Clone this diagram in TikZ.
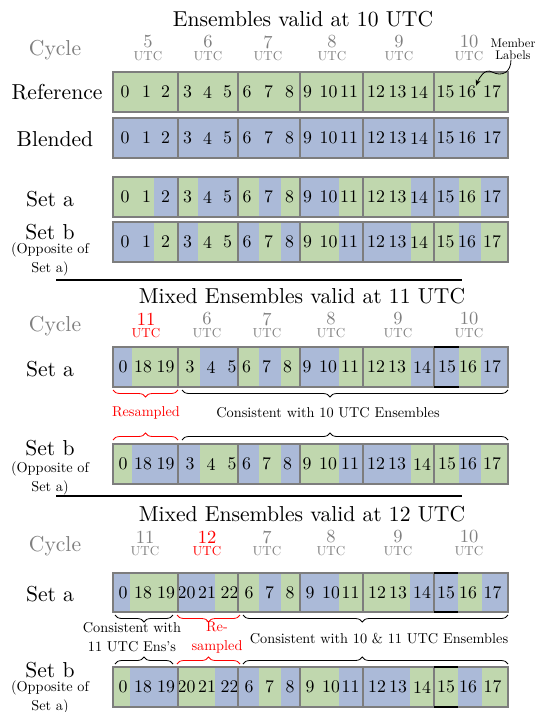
\documentclass[tikz,border=0pt]{standalone}
\usepackage{fontspec}
\setmainfont{lmroman10-regular.otf}
\usetikzlibrary{decorations.pathreplacing,arrows.meta}
\definecolor{cg}{RGB}{192,215,174}
\definecolor{cb}{RGB}{171,186,216}
\definecolor{bordergray}{RGB}{125,125,125}
\definecolor{hdrgray}{RGB}{128,128,128}
\tikzset{
  mainlbl/.style={font=\fontsize{21.6}{26}\selectfont, inner sep=0pt},
  num/.style={font=\fontsize{17.8}{22}\selectfont, inner sep=0pt},
  smalltxt/.style={font=\fontsize{14.3}{19}\selectfont, inner sep=0pt, align=center},
  hnum/.style={font=\fontsize{18.5}{22}\selectfont, inner sep=0pt},
  hutc/.style={font=\fontsize{13}{16}\selectfont, inner sep=0pt},
  grp/.style={draw=bordergray, line width=1.4pt},
  brc/.style={decorate, decoration={brace, amplitude=7pt, aspect=#1}, line width=0.8pt},
  brc/.default=0.5,
  sepline/.style={line width=1.3pt}
}
\newcommand{\cellrow}[4]{%
  \foreach \l/\r/\tx/\lab/\col [count=\k from 0] in {#4} {
    \fill[\col] (\l,#2) rectangle (\r,#3);
    \node[num] (#1-\k) at (\tx,{(#2+#3)/2}) {\lab};
  }
  \foreach \a/\b in {113/178,178/238,238/300,300/363,363/434,434/508}
    \draw[grp] (\a,#2) rectangle (\b,#3);
}
\newcommand{\hdr}[5]{%
  \node[hnum,text=#5] (#1n) at (#2,#3+23) {#4};
  \node[hutc,text=#5] (#1u) at (#2,#3+37) {UTC};
}
\begin{document}
\begin{tikzpicture}[x=1pt,y=-1pt]
\fill[white] (0,0) rectangle (539,712);
\useasboundingbox (0,0) rectangle (539,712);

% ================= Section 1 =================
\node[mainlbl] (t1) at (303,19) {Ensembles valid at 10 UTC};
\node[mainlbl,text=hdrgray] (cy1) at (55,50) {Cycle};
\hdr{h1a}{148}{19}{5}{hdrgray}
\hdr{h1b}{208}{19}{6}{hdrgray}
\hdr{h1c}{268}{19}{7}{hdrgray}
\hdr{h1d}{332}{19}{8}{hdrgray}
\hdr{h1e}{399}{19}{9}{hdrgray}
\hdr{h1f}{469}{19}{10}{hdrgray}
\node[font=\fontsize{12.5}{12}\selectfont, inner sep=0pt, align=center] (ml) at (513,49) {Member\\Labels};

\node[mainlbl] (lref) at (57,92) {Reference};
\cellrow{r1}{72}{112}{113/136/125/0/cg, 136/154/146.5/1/cg, 154/178/165.5/2/cg, 178/198/187.5/3/cg, 198/217/207.5/4/cg, 217/238/227.5/5/cg, 238/259/247/6/cg, 259/281/268.5/7/cg, 281/300/289.5/8/cg, 300/318/307.5/9/cg, 318/339/328.5/10/cg, 339/363/349/11/cg, 363/387/376/12/cg, 387/411/397.5/13/cg, 411/434/419/14/cg, 434/459/445.5/15/cg, 459/481/467/16/cg, 481/508/492/17/cg}

\node[mainlbl] (lbl) at (55,139) {Blended};
\cellrow{r2}{118}{158}{113/136/125/0/cb, 136/154/146.5/1/cb, 154/178/165.5/2/cb, 178/198/187.5/3/cb, 198/217/207.5/4/cb, 217/238/227.5/5/cb, 238/259/247/6/cb, 259/281/268.5/7/cb, 281/300/289.5/8/cb, 300/318/307.5/9/cb, 318/339/328.5/10/cb, 339/363/349/11/cb, 363/387/376/12/cb, 387/411/397.5/13/cb, 411/434/419/14/cb, 434/459/445.5/15/cb, 459/481/467/16/cb, 481/508/492/17/cb}

\node[mainlbl] (lsa1) at (50,199) {Set a};
\cellrow{r3}{177}{217}{113/136/125/0/cg, 136/154/146.5/1/cg, 154/178/165.5/2/cb, 178/198/187.5/3/cg, 198/217/207.5/4/cb, 217/238/227.5/5/cb, 238/259/247/6/cg, 259/281/268.5/7/cb, 281/300/289.5/8/cg, 300/318/307.5/9/cb, 318/339/328.5/10/cb, 339/363/349/11/cg, 363/387/376/12/cg, 387/411/397.5/13/cg, 411/434/419/14/cb, 434/459/445.5/15/cb, 459/481/467/16/cg, 481/508/492/17/cb}

\node[mainlbl] (lsb1) at (50,232) {Set b};
\node[smalltxt] (lop1) at (50,259) {(Opposite of\\Set a)};
\cellrow{r4}{222}{262}{113/136/125/0/cb, 136/154/146.5/1/cb, 154/178/165.5/2/cg, 178/198/187.5/3/cb, 198/217/207.5/4/cg, 217/238/227.5/5/cg, 238/259/247/6/cb, 259/281/268.5/7/cg, 281/300/289.5/8/cb, 300/318/307.5/9/cg, 318/339/328.5/10/cg, 339/363/349/11/cb, 363/387/376/12/cb, 387/411/397.5/13/cb, 411/434/419/14/cg, 434/459/445.5/15/cg, 459/481/467/16/cb, 481/508/492/17/cg}

\draw[-{Stealth[length=6pt,width=5pt]}, line width=0.8pt] ([xshift=-2pt]ml.south) .. controls +(0,13) and +(10,5) .. (492,72) .. controls +(-7,-4) and +(3,-8) .. (r1-16.north east);

\draw[sepline] (56,280) -- (462,280);

% ================= Section 2 =================
\node[mainlbl] (t2) at (302,296) {Mixed Ensembles valid at 11 UTC};
\node[mainlbl,text=hdrgray] (cy2) at (55,326) {Cycle};
\hdr{h2a}{146}{296}{11}{red}
\hdr{h2b}{207}{296}{6}{hdrgray}
\hdr{h2c}{267}{296}{7}{hdrgray}
\hdr{h2d}{331}{296}{8}{hdrgray}
\hdr{h2e}{398}{296}{9}{hdrgray}
\hdr{h2f}{469}{296}{10}{hdrgray}

\node[mainlbl] (lsa2) at (50,369) {Set a};
\cellrow{r5}{347}{387}{113/132/123/0/cb, 132/154/143/18/cg, 154/178/165.5/19/cg, 178/200/190/3/cg, 200/222/211/4/cb, 222/238/232/5/cb, 238/259/246.5/6/cg, 259/281/266.5/7/cb, 281/300/287.5/8/cg, 300/318/307/9/cb, 318/339/328/10/cb, 339/363/350/11/cg, 363/387/376/12/cg, 387/411/397/13/cg, 411/434/422/14/cb, 434/459/447/15/cb, 459/481/468/16/cg, 481/508/492/17/cb}
\draw[line width=1.4pt] (434,347) -- (459,347) (434,387) -- (459,387);

\draw[brc, red] (178,390) -- (113,390);
\draw[brc=0.546] (508,390) -- (182,390);
\node[smalltxt, text=red] (rs2) at (146,413) {Resampled};
\node[smalltxt] (cs2) at (328,413) {Consistent with 10 UTC Ensembles};
\draw[brc, red] (113,440) -- (178,440);
\draw[brc=0.454] (182,440) -- (508,440);

\node[mainlbl] (lsb2) at (50,448) {Set b};
\node[smalltxt] (lop2) at (50,478) {(Opposite of\\Set a)};
\cellrow{r6}{444}{484}{113/132/123/0/cg, 132/154/143/18/cb, 154/178/165.5/19/cb, 178/200/190/3/cb, 200/222/211/4/cg, 222/238/232/5/cg, 238/259/246.5/6/cb, 259/281/266.5/7/cg, 281/300/287.5/8/cb, 300/318/307/9/cg, 318/339/328/10/cg, 339/363/350/11/cb, 363/387/376/12/cb, 387/411/397/13/cb, 411/434/422/14/cg, 434/459/447/15/cg, 459/481/468/16/cb, 481/508/492/17/cg}

\draw[sepline] (56,496) -- (462,496);

% ================= Section 3 =================
\node[mainlbl] (t3) at (302,514) {Mixed Ensembles valid at 12 UTC};
\node[mainlbl,text=hdrgray] (cy3) at (55,546) {Cycle};
\hdr{h3a}{145}{514}{11}{hdrgray}
\hdr{h3b}{207}{514}{12}{red}
\hdr{h3c}{267}{514}{7}{hdrgray}
\hdr{h3d}{331}{514}{8}{hdrgray}
\hdr{h3e}{398}{514}{9}{hdrgray}
\hdr{h3f}{469}{514}{10}{hdrgray}

\node[mainlbl] (lsa3) at (50,594) {Set a};
\cellrow{r7}{573}{612}{113/130/123/0/cb, 130/155/143/18/cg, 155/178/166/19/cg, 178/197/186.5/20/cb, 197/215/207/21/cb, 215/238/229.5/22/cg, 238/259/249/6/cg, 259/281/269.5/7/cb, 281/300/290/8/cg, 300/320/310/9/cb, 320/339/331/10/cb, 339/363/350.5/11/cg, 363/387/377/12/cg, 387/410/398/13/cg, 410/434/422/14/cb, 434/458/446/15/cb, 458/482/468/16/cg, 482/508/492.5/17/cb}
\draw[line width=1.4pt] (434,573) -- (458,573) (434,612) -- (458,612);

\draw[brc] (173,615) -- (115,615);
\draw[brc, red] (240,615) -- (177,615);
\draw[brc=0.55] (508,615) -- (243,615);
\node[smalltxt] (cs3a) at (132,637) {Consistent with\\11 UTC Ens's};
\node[smalltxt, text=red] (rs3) at (217,637) {Re-\\sampled};
\node[smalltxt] (cs3b) at (379,639) {Consistent with 10 \& 11 UTC Ensembles};
\draw[brc] (115,664) -- (173,664);
\draw[brc, red] (177,664) -- (240,664);
\draw[brc=0.45] (243,664) -- (508,664);

\node[mainlbl] (lsb3) at (50,670) {Set b};
\node[smalltxt] (lop3) at (50,697) {(Opposite of\\Set a)};
\cellrow{r8}{667}{707}{113/130/123/0/cg, 130/155/143/18/cb, 155/178/166/19/cb, 178/197/186.5/20/cg, 197/215/207/21/cg, 215/238/229.5/22/cb, 238/259/249/6/cb, 259/281/269.5/7/cg, 281/300/290/8/cb, 300/320/310/9/cg, 320/339/331/10/cg, 339/363/350.5/11/cb, 363/387/377/12/cb, 387/410/398/13/cb, 410/434/422/14/cg, 434/458/446/15/cg, 458/482/468/16/cb, 482/508/492.5/17/cg}
\draw[line width=1.4pt] (434,667) -- (458,667) (434,707) -- (458,707);
\end{tikzpicture}
\end{document}
